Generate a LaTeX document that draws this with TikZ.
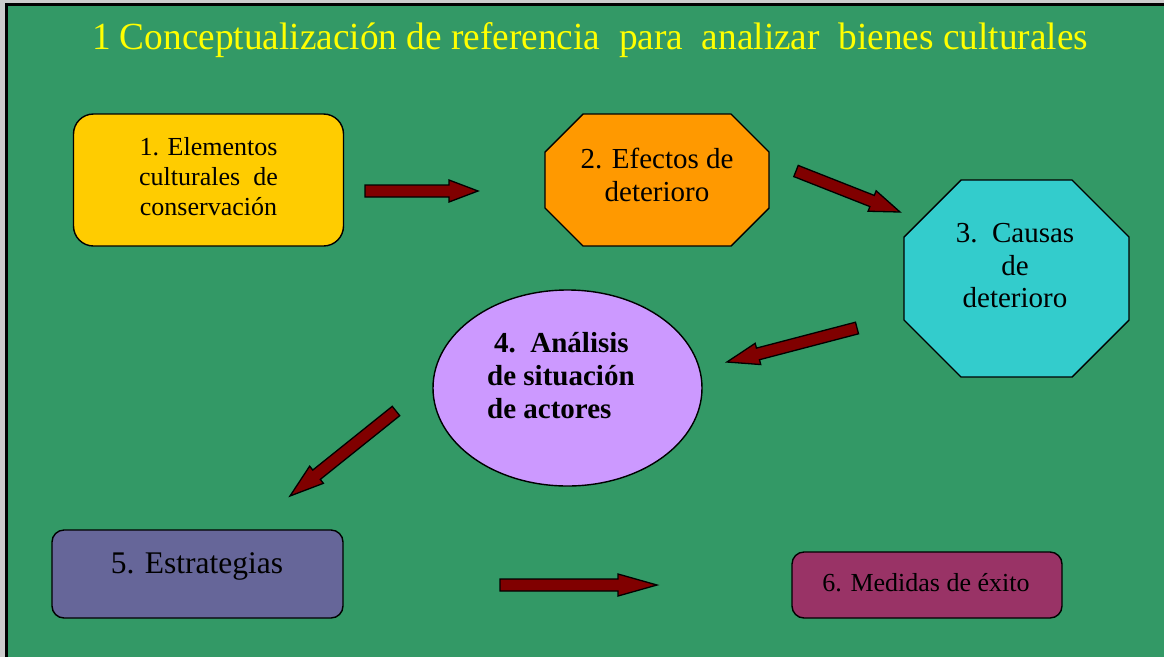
\documentclass[tikz,border=0pt]{standalone}
\usepackage{fontspec}
\setmainfont{Liberation Serif}
\usetikzlibrary{calc,shapes.geometric}
\definecolor{bg}{HTML}{339966}
\definecolor{frame}{HTML}{CCCCCC}
\definecolor{titleyellow}{HTML}{FFFF00}
\definecolor{cA}{HTML}{FFCC00}
\definecolor{cB}{HTML}{FF9900}
\definecolor{cC}{HTML}{33CCCC}
\definecolor{cD}{HTML}{CC99FF}
\definecolor{cE}{HTML}{666699}
\definecolor{cF}{HTML}{993366}
\definecolor{arrowred}{HTML}{800000}
\tikzset{
  shp/.style={draw=black, line width=1.4pt},
  rbox/.style={shp, rectangle, rounded corners=#1, inner sep=0pt},
  lbl/.style={inner sep=0pt, text=black},
  barrow/.style={draw=black, line width=1.3pt, fill=arrowred, line join=miter},
}
% #1 tail, #2 tip, #3 prefix, #4 head length
\newcommand\blockarrow[4]{%
  \coordinate (#3-b) at ($(#2)!#4!(#1)$);
  \draw[barrow] ($(#1)!6pt!90:(#2)$) -- ($(#3-b)!6pt!90:(#2)$) -- ($(#3-b)!11pt!90:(#2)$)
    -- (#2) -- ($(#3-b)!11pt!-90:(#2)$) -- ($(#3-b)!6pt!-90:(#2)$) -- ($(#1)!6pt!-90:(#2)$) -- cycle;}
\begin{document}
\begin{tikzpicture}[x=1pt,y=-1pt]
\useasboundingbox (0,0) rectangle (1164,657);
\fill[frame] (0,0) rectangle (1164,657);
\fill[bg] (6.5,4.5) rectangle (1164,657);
\draw[line width=3pt] (6.5,657) -- (6.5,4.5) -- (1164,4.5);

\node[inner sep=0pt, anchor=base, text=titleyellow] (title) at (590,49.3)
  {\resizebox{996pt}{27pt}{\fontsize{40}{40}\selectfont 1 Conceptualización de referencia\ \ para\ \ analizar\ \ bienes culturales}};

% node 1
\node[rbox=20pt, fill=cA, minimum width=270pt, minimum height=132pt] (n1) at (208.5,180) {};
\node[lbl, align=center, font=\fontsize{26}{30}\selectfont] (n1t) at (208.5,176.2)
  {1. Elementos\\culturales\ \ de\\conservación};

% node 2
\draw[shp, fill=cB] (583,114) -- (731,114) -- (769,152) -- (769,208) -- (731,246)
  -- (583,246) -- (545,208) -- (545,152) -- cycle;
\node[lbl, align=center, font=\fontsize{29}{33}\selectfont] (n2) at (657,174.6)
  {2. Efectos de\\deterioro};

% node 3
\draw[shp, fill=cC] (961,180) -- (1072,180) -- (1129,237) -- (1129,320) -- (1072,377)
  -- (961,377) -- (904,320) -- (904,237) -- cycle;
\node[lbl, align=center, font=\fontsize{29}{32.5}\selectfont] (n3) at (1015,265.7)
  {3.\ \ Causas\\de\\deterioro};

% node 4
\node[shp, ellipse, fill=cD, minimum width=269pt, minimum height=196pt, inner sep=0pt] (n4) at (567.5,388) {};
\node[lbl, align=left, anchor=west, font=\bfseries\fontsize{29}{33}\selectfont] (n4t) at (487,375.7)
  {\hspace*{7pt}4.\ \ Análisis\\de situación\\de actores};

% node 5
\node[rbox=12pt, fill=cE, minimum width=291pt, minimum height=88pt] (n5) at (197.5,574) {};
\node[lbl, anchor=base, font=\fontsize{31.5}{31.5}\selectfont] (n5t) at (197,573) {5. Estrategias};

% node 6
\node[rbox=12pt, fill=cF, minimum width=270pt, minimum height=66pt] (n6) at (927,585) {};
\node[lbl, anchor=base, font=\fontsize{26}{26}\selectfont] (n6t) at (926,591) {6. Medidas de éxito};

% arrows
\coordinate (a1t) at (365,191); \coordinate (a1h) at (478,191);
\coordinate (a2t) at (796,171); \coordinate (a2h) at (900,212);
\coordinate (a3t) at (857,328); \coordinate (a3h) at (727,362);
\coordinate (a4t) at (396,411); \coordinate (a4h) at (290,496);
\coordinate (a5t) at (500,585); \coordinate (a5h) at (657,585);
\blockarrow{a1t}{a1h}{a1}{29pt}
\blockarrow{a2t}{a2h}{a2}{30pt}
\blockarrow{a3t}{a3h}{a3}{32pt}
\blockarrow{a4t}{a4h}{a4}{34pt}
\blockarrow{a5t}{a5h}{a5}{39pt}
\end{tikzpicture}
\end{document}
